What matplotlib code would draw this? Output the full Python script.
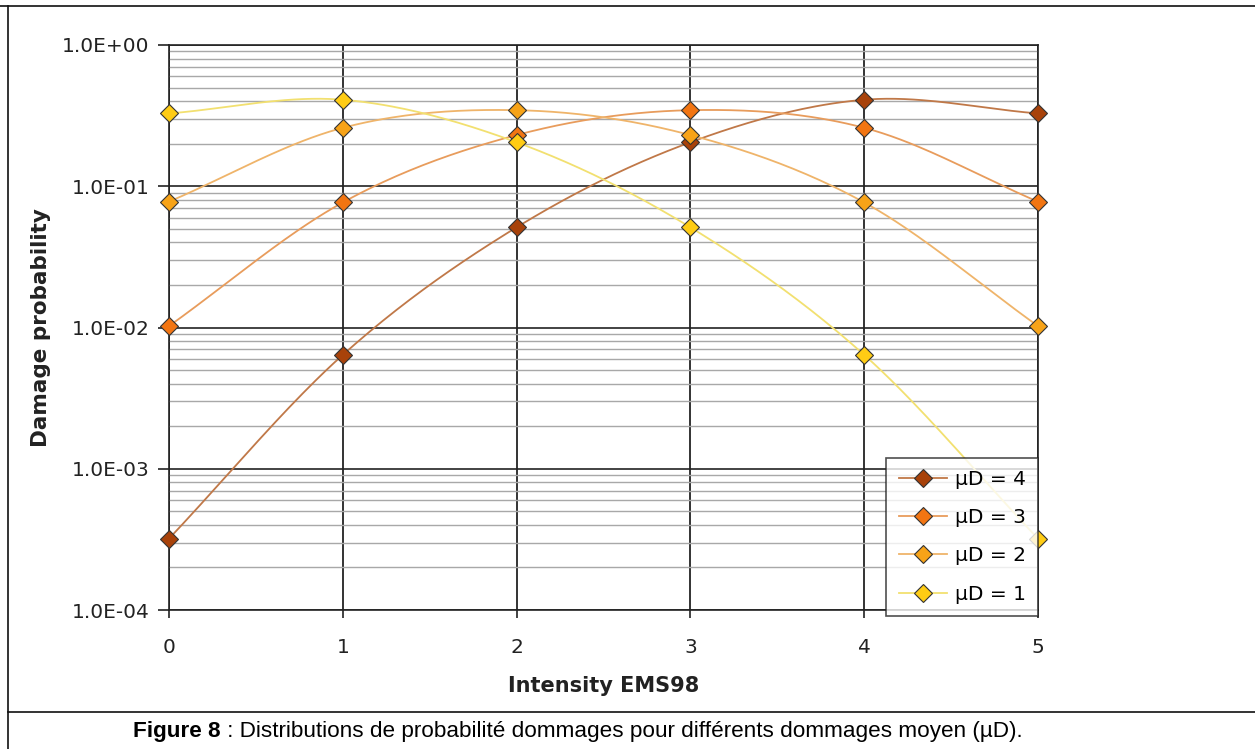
import numpy as np
import matplotlib
matplotlib.use("Agg")
import matplotlib.pyplot as plt
from matplotlib.lines import Line2D
from matplotlib.ticker import LogLocator, FixedLocator, NullFormatter

# Intensity classes on the x axis
intensity = [0, 1, 2, 3, 4, 5]

# Damage probabilities for each mean damage grade
p_mu4 = [0.00032, 0.0064, 0.0512, 0.2048, 0.4096, 0.32768]
p_mu3 = [0.01024, 0.0768, 0.2304, 0.3456, 0.2592, 0.07776]
p_mu2 = [0.07776, 0.2592, 0.3456, 0.2304, 0.0768, 0.01024]
p_mu1 = [0.32768, 0.4096, 0.2048, 0.0512, 0.0064, 0.00032]

labels = ["µD = 4", "µD = 3", "µD = 2", "µD = 1"]
series = [p_mu4, p_mu3, p_mu2, p_mu1]
marker_colors = ["#A8420A", "#F27512", "#F7A318", "#FFCC14"]
line_colors = ["#C07848", "#E89C5C", "#EFB46A", "#F2E070"]

yticklabels = ["1.0E-04", "1.0E-03", "1.0E-02", "1.0E-01", "1.0E+00"]


def smooth(x, y, n=40):
    """Catmull-Rom curve through the points, built in log10(y) space."""
    x = np.asarray(x, float)
    ly = np.log10(np.asarray(y, float))
    px = np.concatenate([[2 * x[0] - x[1]], x, [2 * x[-1] - x[-2]]])
    py = np.concatenate([[2 * ly[0] - ly[1]], ly, [2 * ly[-1] - ly[-2]]])
    xs, ys = [], []
    t = np.linspace(0, 1, n)
    for i in range(1, len(px) - 2):
        for arr, out in ((px, xs), (py, ys)):
            p0, p1, p2, p3 = arr[i - 1], arr[i], arr[i + 1], arr[i + 2]
            seg = 0.5 * ((2 * p1) + (-p0 + p2) * t
                         + (2 * p0 - 5 * p1 + 4 * p2 - p3) * t ** 2
                         + (-p0 + 3 * p1 - 3 * p2 + p3) * t ** 3)
            out.append(seg if i == 1 else seg[1:])
    return np.concatenate(xs), 10 ** np.concatenate(ys)


fig = plt.figure(figsize=(12.55, 7.49), dpi=100)
ax = fig.add_axes([169 / 1255, 1 - 610 / 749, (1038 - 169) / 1255, (610 - 45) / 749])

ax.set_yscale("log")
ax.set_ylim(1e-4, 1.0)
ax.set_xlim(0, 5)

# Grid: light minor lines, black major lines
ax.yaxis.set_minor_locator(LogLocator(base=10, subs=np.arange(2, 10)))
ax.yaxis.set_minor_formatter(NullFormatter())
ax.yaxis.set_major_locator(FixedLocator([1e-4, 1e-3, 1e-2, 1e-1, 1.0]))
ax.set_yticklabels(yticklabels)
ax.set_xticks(intensity)
ax.grid(which="minor", axis="y", color="#A8A8A8", linewidth=1.0)
ax.grid(which="major", axis="y", color="#222222", linewidth=1.2)
ax.grid(which="major", axis="x", color="#111111", linewidth=1.2)
ax.set_axisbelow(True)

for s in ax.spines.values():
    s.set_color("#222222")
    s.set_linewidth(1.2)

ax.tick_params(axis="y", which="major", direction="out", length=8, width=1.2,
               labelsize=14.5, pad=6, colors="#222222")
ax.tick_params(axis="y", which="minor", length=0)
ax.tick_params(axis="x", which="major", direction="out", length=6, width=1.2,
               labelsize=14.5, pad=14, colors="#222222")

for y, lab, mc, lc in zip(series, labels, marker_colors, line_colors):
    sx, sy = smooth(intensity, y)
    ax.plot(sx, sy, color=lc, linewidth=1.3, zorder=3, clip_on=False)
    ax.plot(intensity, y, linestyle="none", marker="D", markersize=9,
            markerfacecolor=mc, markeredgecolor="#333333", markeredgewidth=0.8,
            zorder=4, clip_on=False)

handles = [Line2D([0], [0], color=lc, linewidth=1.3, marker="D", markersize=9,
                  markerfacecolor=mc, markeredgecolor="#333333", markeredgewidth=0.8)
           for mc, lc in zip(marker_colors, line_colors)]
leg = ax.legend(handles, labels, loc="lower right", bbox_to_anchor=(1.0, -0.01),
                frameon=True, fancybox=False, fontsize=14.5, handlelength=2.4,
                borderpad=0.6, labelspacing=0.95, handletextpad=0.4,
                borderaxespad=0.0)
leg.get_frame().set_edgecolor("#222222")
leg.get_frame().set_linewidth(1.2)
leg.set_zorder(6)

ax.set_ylabel("Damage probability", fontsize=15.5, fontweight="bold", labelpad=8,
              color="#222222")
ax.set_xlabel("Intensity EMS98", fontsize=15, fontweight="bold", labelpad=14,
              color="#222222")

# Page frame and caption
frame_kw = dict(color="#111111", linewidth=1.2, transform=fig.transFigure)
fig.add_artist(Line2D([8 / 1255, 8 / 1255], [0, 1 - 6 / 749], **frame_kw))
fig.add_artist(Line2D([0, 1], [1 - 6 / 749, 1 - 6 / 749], **frame_kw))
fig.add_artist(Line2D([8 / 1255, 1], [1 - 712 / 749, 1 - 712 / 749], **frame_kw))

cap_y = 1 - 731 / 749
t1 = fig.text(133 / 1255, cap_y, "Figure 8", fontsize=16.2, fontweight="bold",
              family="Liberation Sans", va="center", ha="left")
fig.canvas.draw()
bb = t1.get_window_extent()
fig.text(bb.x1 / fig.bbox.width, cap_y,
         " : Distributions de probabilité dommages pour différents dommages moyen (µD).",
         fontsize=16.2, family="Liberation Sans", va="center", ha="left")

fig.savefig("out.png", dpi=100)
